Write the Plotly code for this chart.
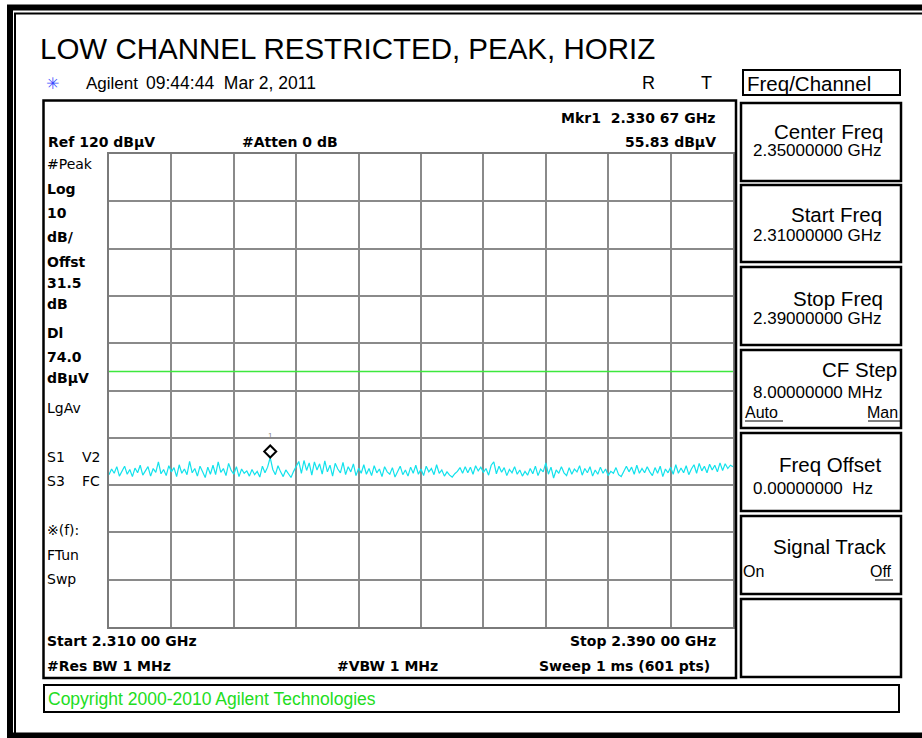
import numpy as np
import plotly.graph_objects as go

W, H = 922, 738

START_GHZ = 2.310
STOP_GHZ = 2.390
REF_LEVEL = 120.0
DB_PER_DIV = 10.0
DISPLAY_LINE = 74.0
MKR_FREQ = 2.33067
MKR_LEVEL = 55.83

# peak trace, one value every 1/3 MHz (241 pts)
level = [
    52.2, 53.4, 52.5, 53.9, 51.9, 53.0, 54.0, 52.3, 53.3, 51.8, 53.6, 52.6, 54.2, 52.1, 53.0, 53.9, 51.9, 53.5, 52.7, 54.9,
    52.4, 53.3, 52.0, 54.1, 52.8, 53.7, 51.8, 54.3, 52.5, 53.4, 52.2, 55.0, 52.6, 53.5, 51.9, 54.0, 52.8, 51.6, 53.8, 52.3,
    54.2, 52.2, 54.9, 52.7, 53.5, 52.0, 54.6, 53.1, 52.3, 53.9, 51.8, 53.4, 52.5, 53.0, 51.9, 53.3, 52.2, 52.9, 51.7, 54.0,
    52.6, 53.8, 55.83, 53.3, 52.2, 54.1, 52.8, 51.8, 53.2, 52.3, 51.6, 52.9, 53.9, 55.0, 52.5, 55.2, 53.1, 54.7, 52.1, 54.9,
    53.2, 54.5, 52.3, 55.1, 52.8, 54.2, 51.9, 54.6, 53.4, 52.6, 54.8, 52.2, 53.9, 52.8, 54.5, 52.0, 53.6, 52.5, 54.3, 52.3,
    53.5, 52.0, 54.1, 52.6, 53.4, 51.8, 53.9, 52.8, 52.3, 53.7, 51.7, 52.7, 54.0, 52.2, 53.2, 51.9, 53.8, 52.5, 54.2, 52.3,
    53.4, 52.0, 54.0, 52.8, 53.5, 52.2, 54.3, 52.5, 53.2, 51.9, 52.8, 52.1, 51.7, 52.4, 52.9, 53.7, 52.5, 53.9, 52.6, 53.8,
    52.3, 54.1, 53.0, 53.8, 52.7, 53.5, 52.1, 54.2, 54.9, 52.4, 54.0, 52.7, 53.7, 52.0, 53.3, 52.6, 53.9, 52.3, 53.2, 51.9,
    52.9, 52.1, 53.5, 52.4, 54.0, 52.0, 53.4, 52.8, 54.7, 52.3, 53.8, 51.5, 53.2, 52.5, 53.9, 52.6, 52.0, 53.7, 52.3, 53.4,
    52.8, 54.1, 52.1, 53.5, 52.6, 53.9, 51.9, 53.2, 52.3, 53.8, 52.5, 53.4, 52.0, 52.9, 52.5, 53.7, 52.2, 51.8, 52.8, 54.0,
    52.8, 53.8, 52.3, 54.2, 52.5, 53.5, 52.6, 53.9, 52.8, 52.0, 53.7, 52.5, 54.0, 51.8, 53.4, 52.6, 53.8, 52.3, 54.3, 52.5,
    53.6, 52.6, 54.1, 52.2, 53.4, 54.3, 52.5, 54.6, 53.0, 54.0, 52.6, 54.4, 53.2, 54.2, 52.8, 54.7, 53.1, 54.5, 53.5, 54.2,
    53.9,
]
freq = np.linspace(START_GHZ, STOP_GHZ, len(level))

ARIAL = "Liberation Sans, Arial, sans-serif"
DEJAVU = "DejaVu Sans, Verdana, sans-serif"


def px(x):
    return x / W


def py(y):
    return 1 - y / H


annotations = []
shapes = []


def label(x, y, text, size=15, bold=False, font=DEJAVU, color="black", anchor="left"):
    annotations.append(dict(
        xref="paper", yref="paper", x=px(x), y=py(y),
        text=f"<b>{text}</b>" if bold else text,
        showarrow=False, xanchor=anchor, yanchor="middle",
        font=dict(family=font, size=size, color=color),
    ))


def box(x0, y0, x1, y1, width=2, color="black"):
    shapes.append(dict(
        type="rect", xref="paper", yref="paper",
        x0=px(x0), y0=py(y0), x1=px(x1), y1=py(y1),
        line=dict(color=color, width=width), layer="above",
    ))


def hline(x0, x1, y, width=1, color="black"):
    shapes.append(dict(
        type="line", xref="paper", yref="paper",
        x0=px(x0), y0=py(y), x1=px(x1), y1=py(y),
        line=dict(color=color, width=width),
    ))


fig = go.Figure()
fig.add_trace(go.Scatter(
    x=freq, y=level, mode="lines",
    line=dict(color="#12E2EC", width=1.2), hoverinfo="skip",
))

# outer frame
box(10, 7.5, W + 30, 735.5, width=6)
box(15, 13.5, W + 30, H + 30, width=2)

# title + header
label(38, 48, "LOW CHANNEL RESTRICTED, PEAK, HORIZ", size=29.5, font=ARIAL)
label(44, 83, "✳", size=16, font=DEJAVU, color="#3a4dff")
label(84, 83, "Agilent", size=17, font=ARIAL)
label(144, 83, "09:44:44  Mar 2, 2011", size=17.5, font=ARIAL)
label(648, 83, "R", size=18, font=ARIAL, anchor="center")
label(706, 83, "T", size=18, font=ARIAL, anchor="center")

# main display box
box(43.5, 100.5, 736, 678, width=2.5)

label(718, 118, "Mkr1  2.330 67 GHz", size=14, bold=True, anchor="right")
label(46, 142, "Ref 120 dBµV", size=14, bold=True)
label(240, 142, "#Atten 0 dB", size=14, bold=True)
label(718, 142, "55.83 dBµV", size=14, bold=True, anchor="right")

side_labels = [
    ("#Peak", 164, False), ("Log", 189, True), ("10", 213, True), ("dB/", 237, True),
    ("Offst", 262, True), ("31.5", 283, True), ("dB", 304, True), ("Dl", 333, True),
    ("74.0", 357, True), ("dBµV", 378, True), ("LgAv", 408, False),
    ("S1", 457, False), ("S3", 481, False), ("※(f):", 530, False),
    ("FTun", 555, False), ("Swp", 579, False),
]
for txt, yy, b in side_labels:
    label(45, yy, txt, size=14, bold=b)
label(80, 457, "V2", size=14)
label(80, 481, "FC", size=14)

label(45, 641, "Start 2.310 00 GHz", size=14, bold=True)
label(718, 641, "Stop 2.390 00 GHz", size=14, bold=True, anchor="right")
label(45, 666, "#Res BW 1 MHz", size=14, bold=True)
label(335, 666, "#VBW 1 MHz", size=14, bold=True)
label(712, 666, "Sweep 1 ms (601 pts)", size=14, bold=True, anchor="right")

# copyright bar
box(44, 685, 899, 712, width=2)
label(46, 699, "Copyright 2000-2010 Agilent Technologies", size=17.5, font=ARIAL, color="#22dd22")

# softkey panel
box(743, 70, 900, 95, width=2)
label(745, 84, "Freq/Channel", size=20.5, font=ARIAL)

softkeys = [
    (103, 181, "Center Freq", 131, "2.35000000 GHz", 150),
    (185, 262, "Start Freq", 215, "2.31000000 GHz", 235),
    (267, 345, "Stop Freq", 298, "2.39000000 GHz", 318),
    (350, 428, "CF Step", 369, "8.00000000 MHz", 392),
    (433, 511, "Freq Offset", 464, "0.00000000  Hz", 488),
    (516, 594, "Signal Track", 546, None, None),
    (599, 677, None, None, None, None),
]
title_right = [885, 884, 885, 899, 883, 889, None]
for (y0, y1, name, ny, val, vy), xr in zip(softkeys, title_right):
    box(741, y0, 901, y1, width=2.5)
    if name:
        label(xr, ny, name, size=20.5, font=ARIAL, anchor="right")
    if val:
        label(751, vy, val, size=17, font=ARIAL)

label(743, 412, "Auto", size=16, font=ARIAL)
hline(745, 783, 421)
label(900, 412, "Man", size=16, font=ARIAL, anchor="right")
hline(868, 900, 421)
label(741, 571, "On", size=16, font=ARIAL)
label(894, 571, "Off", size=16, font=ARIAL, anchor="right")
hline(875, 893, 580)

# display line
shapes.append(dict(
    type="line", xref="x", yref="y", x0=START_GHZ, x1=STOP_GHZ,
    y0=DISPLAY_LINE, y1=DISPLAY_LINE, line=dict(color="#3de83d", width=1.5),
))

# marker diamond, drawn just above the marked point
shapes.append(dict(
    type="path", xref="x", yref="y", xsizemode="pixel", ysizemode="pixel",
    xanchor=MKR_FREQ, yanchor=MKR_LEVEL,
    path="M 0 0 L 6 6 L 0 12 L -6 6 Z",
    line=dict(color="black", width=2), fillcolor="white",
))
annotations.append(dict(
    xref="x", yref="y", x=MKR_FREQ, y=MKR_LEVEL, yshift=22, text="1",
    showarrow=False, font=dict(family=ARIAL, size=8, color="#888888"),
))

fig.update_layout(
    width=W, height=H,
    margin=dict(l=0, r=0, t=0, b=0),
    paper_bgcolor="white", plot_bgcolor="white",
    showlegend=False,
    annotations=annotations, shapes=shapes,
)
fig.update_xaxes(
    domain=[px(109), px(733)], range=[START_GHZ, STOP_GHZ],
    tick0=START_GHZ, dtick=(STOP_GHZ - START_GHZ) / 10,
    showticklabels=False, ticks="", zeroline=False,
    showgrid=True, gridcolor="#8a8a8a", gridwidth=1.5,
    showline=True, mirror=True, linecolor="#7a7a7a", linewidth=2,
)
fig.update_yaxes(
    domain=[py(627), py(154)], range=[REF_LEVEL - 10 * DB_PER_DIV, REF_LEVEL],
    dtick=DB_PER_DIV,
    showticklabels=False, ticks="", zeroline=False,
    showgrid=True, gridcolor="#8a8a8a", gridwidth=1.5,
    showline=True, mirror=True, linecolor="#7a7a7a", linewidth=2,
)

# the page's default 8px body margin would push the 922x738 figure off the window
fig.write_html(
    "out.html",
    config={"displayModeBar": False},
    post_script="document.body.style.margin = '0';",
)
